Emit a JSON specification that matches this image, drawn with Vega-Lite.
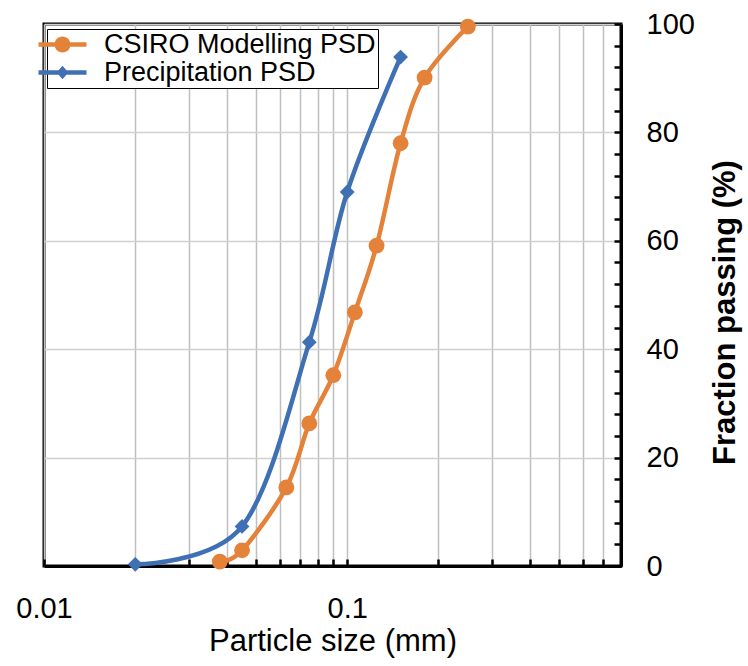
{
  "$schema": "https://vega.github.io/schema/vega-lite/v6.json",
  "width": 577,
  "height": 542,
  "autosize": {"type": "none"},
  "padding": {"left": 44, "top": 24, "right": 127, "bottom": 100},
  "background": "white",
  "config": {
    "view": {"stroke": "black", "strokeWidth": 3},
    "font": "Liberation Sans"
  },
  "resolve": {"legend": {"color": "independent", "shape": "independent"}},
  "data": {
    "values": [
      {"series": "CSIRO Modelling PSD", "size": 0.038, "pass": 0.8},
      {"series": "CSIRO Modelling PSD", "size": 0.045, "pass": 2.9},
      {"series": "CSIRO Modelling PSD", "size": 0.063, "pass": 14.5},
      {"series": "CSIRO Modelling PSD", "size": 0.075, "pass": 26.3},
      {"series": "CSIRO Modelling PSD", "size": 0.09, "pass": 35.2},
      {"series": "CSIRO Modelling PSD", "size": 0.106, "pass": 46.8},
      {"series": "CSIRO Modelling PSD", "size": 0.125, "pass": 59.1},
      {"series": "CSIRO Modelling PSD", "size": 0.15, "pass": 78.0},
      {"series": "CSIRO Modelling PSD", "size": 0.18, "pass": 90.1},
      {"series": "CSIRO Modelling PSD", "size": 0.25, "pass": 99.5},
      {"series": "Precipitation PSD", "size": 0.02, "pass": 0.3},
      {"series": "Precipitation PSD", "size": 0.045, "pass": 7.3},
      {"series": "Precipitation PSD", "size": 0.075, "pass": 41.3},
      {"series": "Precipitation PSD", "size": 0.1, "pass": 69.0},
      {"series": "Precipitation PSD", "size": 0.15, "pass": 93.9}
    ]
  },
  "encoding": {
    "x": {
      "field": "size",
      "type": "quantitative",
      "scale": {"type": "log", "domain": [0.01, 0.8], "nice": false},
      "axis": {
        "values": [0.01, 0.02, 0.03, 0.04, 0.05, 0.06, 0.07, 0.08, 0.09, 0.1, 0.2, 0.3, 0.4, 0.5, 0.6, 0.7, 0.8],
        "labelExpr": "datum.value == 0.01 ? '0.01' : (datum.value == 0.1 ? '0.1' : '')",
        "grid": true,
        "gridColor": "#BFBFBF",
        "gridWidth": 1.5,
        "domainColor": "black",
        "domainWidth": 3,
        "tickColor": "black",
        "tickWidth": 2.5,
        "tickSize": -7,
        "labelFontSize": 29,
        "labelColor": "black",
        "labelPadding": 35,
        "labelFlush": false,
        "labelOverlap": false,
        "title": "Particle size (mm)",
        "titleFontSize": 31,
        "titleFontWeight": "normal",
        "titleColor": "black",
        "titlePadding": 3
      }
    },
    "y": {
      "field": "pass",
      "type": "quantitative",
      "scale": {"domain": [0, 100], "nice": false},
      "axis": {
        "orient": "right",
        "values": [0, 4, 8, 12, 16, 20, 24, 28, 32, 36, 40, 44, 48, 52, 56, 60, 64, 68, 72, 76, 80, 84, 88, 92, 96, 100],
        "labelExpr": "datum.value % 20 == 0 ? datum.label : ''",
        "grid": true,
        "gridColor": "#D0D0D0",
        "gridWidth": 1.5,
        "gridOpacity": {"condition": {"test": "datum.value % 20 == 0", "value": 1}, "value": 0},
        "domainColor": "black",
        "domainWidth": 3,
        "tickColor": "black",
        "tickWidth": 2.5,
        "tickSize": -7,
        "labelFontSize": 29,
        "labelColor": "black",
        "labelPadding": 32,
        "labelOverlap": false,
        "labelFlush": false,
        "title": "Fraction passing (%)",
        "titleFontSize": 31,
        "titleFontWeight": "bold",
        "titleColor": "black",
        "titleAngle": 270,
        "titleBaseline": "top",
        "titleY": 288,
        "titlePadding": 16
      }
    }
  },
  "layer": [
    {
      "mark": {"type": "line", "interpolate": "cardinal", "strokeWidth": 4.5},
      "encoding": {
        "color": {
          "field": "series",
          "type": "nominal",
          "scale": {"domain": ["CSIRO Modelling PSD", "Precipitation PSD"], "range": ["#E5823A", "#3F70B4"]},
          "legend": null
        }
      }
    },
    {
      "transform": [{"filter": "datum.series == 'CSIRO Modelling PSD'"}],
      "mark": {"type": "point", "filled": true, "opacity": 1, "size": 250, "shape": "circle"},
      "encoding": {
        "color": {
          "field": "series",
          "type": "nominal",
          "scale": {"domain": ["CSIRO Modelling PSD", "Precipitation PSD"], "range": ["#E5823A", "#3F70B4"]},
          "legend": null
        }
      }
    },
    {
      "transform": [{"filter": "datum.series == 'Precipitation PSD'"}],
      "mark": {"type": "point", "filled": true, "opacity": 1, "size": 220, "shape": "diamond"},
      "encoding": {
        "color": {
          "field": "series",
          "type": "nominal",
          "scale": {"domain": ["CSIRO Modelling PSD", "Precipitation PSD"], "range": ["#E5823A", "#3F70B4"]},
          "legend": null
        }
      }
    },
    {
      "transform": [{"filter": "datum.size < 0"}],
      "mark": {"type": "point", "filled": true, "opacity": 1, "size": 256},
      "encoding": {
        "color": {
          "field": "series",
          "type": "nominal",
          "scale": {"domain": ["CSIRO Modelling PSD", "Precipitation PSD"], "range": ["#E5823A", "#3F70B4"]},
          "legend": {
            "orient": "none",
            "legendX": 3,
            "legendY": 5,
            "title": null,
            "fillColor": "white",
            "strokeColor": "black",
            "padding": 2,
            "rowPadding": 0,
            "labelFontSize": 27,
            "labelLimit": 500,
            "labelColor": "black",
            "labelFont": "Liberation Sans",
            "labelOffset": 28,
            "symbolSize": 256,
            "encode": {
              "symbols": {
                "update": {
                  "size": {"value": 256},
                  "stroke": {"value": "transparent"},
                  "x": {"value": 28}
                }
              }
            }
          }
        },
        "shape": {
          "field": "series",
          "type": "nominal",
          "scale": {
            "domain": ["CSIRO Modelling PSD", "Precipitation PSD"],
            "range": [
              "M-3,-0.28L-0.95,-0.28L-0.95,0.28L-3,0.28Z M0.95,-0.28L3,-0.28L3,0.28L0.95,0.28Z M1,0C1,0.55 0.55,1 0,1C-0.55,1 -1,0.55 -1,0C-1,-0.55 -0.55,-1 0,-1C0.55,-1 1,-0.55 1,0Z",
              "M-3,-0.27L-0.45,-0.27L-0.45,0.27L-3,0.27Z M0.45,-0.27L3,-0.27L3,0.27L0.45,0.27Z M0,-0.85L0.72,0L0,0.85L-0.72,0Z"
            ]
          },
          "legend": {
            "orient": "none",
            "legendX": 3,
            "legendY": 5,
            "title": null,
            "fillColor": "white",
            "strokeColor": "black",
            "padding": 2,
            "rowPadding": 0,
            "labelFontSize": 27,
            "labelLimit": 500,
            "labelColor": "black",
            "labelFont": "Liberation Sans",
            "labelOffset": 28,
            "symbolSize": 256,
            "encode": {
              "symbols": {
                "update": {
                  "size": {"value": 256},
                  "stroke": {"value": "transparent"},
                  "x": {"value": 28}
                }
              }
            }
          }
        }
      }
    }
  ]
}
